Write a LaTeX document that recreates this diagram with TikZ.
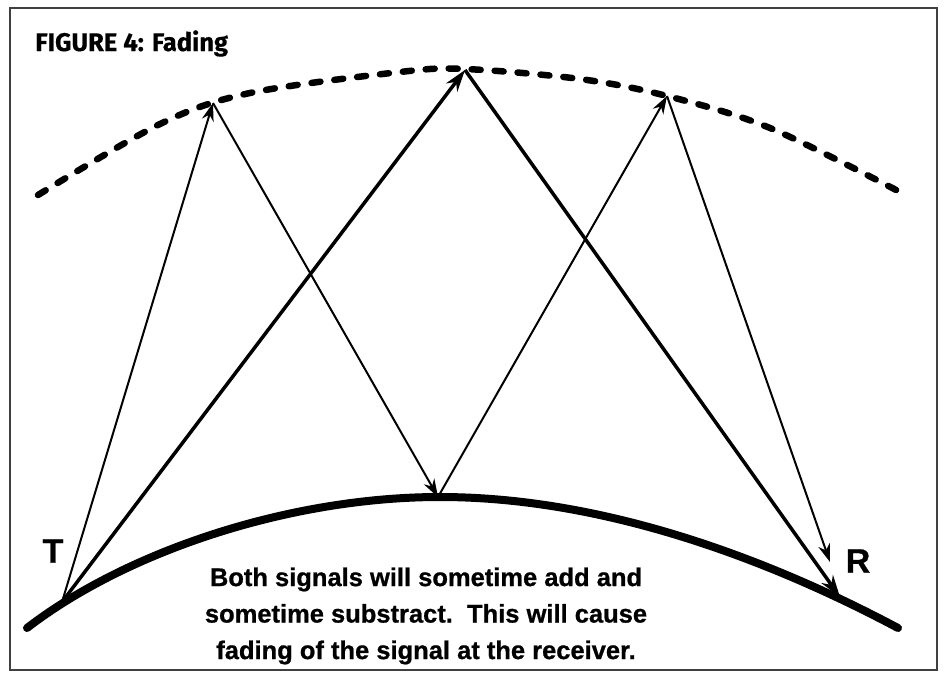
\documentclass[tikz,border=0pt]{standalone}
\usepackage{fontspec}
\setmainfont{Liberation Sans}
\newfontfamily\heavyfont{Liberation Sans}[BoldFeatures={FakeBold=0.8}]
\newfontfamily\titlefont{Fira Sans}[BoldFeatures={FakeBold=0.5}]
\usetikzlibrary{arrows.meta}
\tikzset{
  frameline/.style={draw=black!75, line width=1.2pt},
  sky/.style={line width=6.5pt, line cap=round, dash pattern=on 9pt off 14pt},
  ground/.style={line width=8pt, line cap=round},
  thinray/.style={line width=2pt, -{Stealth[length=18pt,width=12pt]}},
  thickray/.style={line width=3.5pt, -{Stealth[length=22pt,width=14pt]}},
  lbl/.style={font=\heavyfont\fontsize{34}{34}\selectfont\bfseries, inner sep=0pt},
}
\begin{document}
\begin{tikzpicture}[x=1pt,y=-1pt]
\useasboundingbox (0,0) rectangle (945,675);
\draw[frameline] (10,8) rectangle (937,670);

\node[anchor=base west, inner sep=0pt, font=\titlefont\fontsize{25.5}{25.5}\selectfont\bfseries] (title) at (35,51) {FIGURE 4: Fading};

% ionosphere (dashed)
\draw[sky] plot[smooth, tension=0.55] coordinates {(38,195) (160,124) (250,93) (400,72) (465,69) (580,79) (667,96) (770,128) (900,192)};

% earth
\draw[ground] (27,628) .. controls (127,551) and (290,497) .. (440,497)
                       .. controls (610,497) and (778,564) .. (898,628);

\coordinate (T) at (62,602);
\coordinate (R) at (840,597);
\coordinate (A1) at (213,103);
\coordinate (A2) at (465,70);
\coordinate (A3) at (667,96);
\coordinate (G) at (438,497);
\coordinate (E) at (830,562);

% reflected path
\draw[thinray] (T) -- (A1);
\draw[thinray] (A1) -- (G);
\draw[thinray] (G) -- (A3);
\draw[thinray] (A3) -- (E);

% direct sky-wave path
\draw[thickray] (T) -- (A2);
\draw[thickray] (A2) -- (R);

\node[lbl] (Tl) at (53,551) {T};
\node[lbl] (Rl) at (858,561) {R};

\node[align=center, inner sep=0pt, font=\heavyfont\fontsize{25.5}{36.5}\selectfont\bfseries] (caption) at (426,616)
{Both signals will sometime add and\\ sometime substract.\ \ This will cause\\ fading of the signal at the receiver.};
\end{tikzpicture}
\end{document}
